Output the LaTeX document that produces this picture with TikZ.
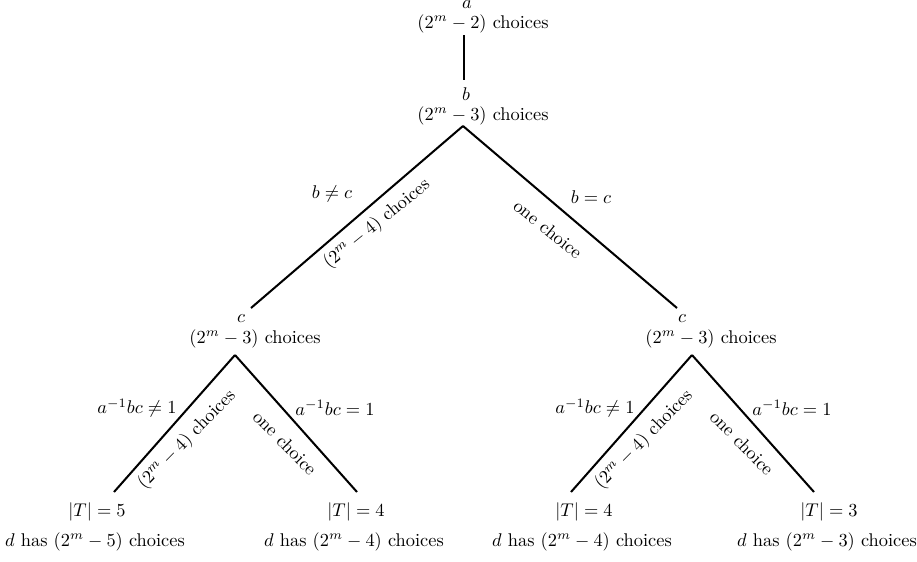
\documentclass[tikz,border=0pt]{standalone}
\begin{document}
\begin{tikzpicture}[x=0.5435pt,y=-0.5435pt,
  txt/.style={inner sep=0pt, anchor=center},
  edgeline/.style={line width=1.1pt}]
\useasboundingbox (0,0) rectangle (917,561);
% tree node texts
\node[txt] (a) at (467,5) {$a$};
\node[txt] (ach) at (483,24) {$(2^m-2)$ choices};
\node[txt] (b) at (466,94) {$b$};
\node[txt] (bch) at (483,116) {$(2^m-3)$ choices};
\node[txt] (cl) at (241,319) {$c$};
\node[txt] (clch) at (255,339) {$(2^m-3)$ choices};
\node[txt] (cr) at (682,319) {$c$};
\node[txt] (crch) at (711,339) {$(2^m-3)$ choices};
\node[txt] (t1) at (97,512) {$|T|=5$};
\node[txt] (d1) at (95,542) {$d$ has $(2^m-5)$ choices};
\node[txt] (t2) at (356,512) {$|T|=4$};
\node[txt] (d2) at (354,542) {$d$ has $(2^m-4)$ choices};
\node[txt] (t3) at (584,512) {$|T|=4$};
\node[txt] (d3) at (582,542) {$d$ has $(2^m-4)$ choices};
\node[txt] (t4) at (829,512) {$|T|=3$};
\node[txt] (d4) at (827,542) {$d$ has $(2^m-3)$ choices};
% connector ports
\coordinate (pa) at (464,35);
\coordinate (pb) at (464,80);
\coordinate (pbs) at (463,126);
\coordinate (pcl) at (251,308);
\coordinate (pcr) at (677,308);
\coordinate (pcls) at (235,355);
\coordinate (pcrs) at (692,355);
\coordinate (pt1) at (114,492);
\coordinate (pt2) at (357,492);
\coordinate (pt3) at (571,492);
\coordinate (pt4) at (814,492);
% connectors
\draw[edgeline] (pa) -- (pb);
\draw[edgeline] (pbs) -- (pcl);
\draw[edgeline] (pbs) -- (pcr);
\draw[edgeline] (pcls) -- (pt1);
\draw[edgeline] (pcls) -- (pt2);
\draw[edgeline] (pcrs) -- (pt3);
\draw[edgeline] (pcrs) -- (pt4);
% edge labels
\node[txt] (l1) at (332,194) {$b\neq c$};
\node[txt, rotate=39] (l2) at (377,224) {$(2^m-4)$ choices};
\node[txt] (l3) at (591,197) {$b=c$};
\node[txt, rotate=-39] (l4) at (548,229) {one choice};
\node[txt] (l5) at (137,408) {$a^{-1}bc\neq 1$};
\node[txt, rotate=45.5] (l6) at (187,440) {$(2^m-4)$ choices};
\node[txt, rotate=-45.5] (l7) at (285,443) {one choice};
\node[txt] (l8) at (335,408) {$a^{-1}bc=1$};
\node[txt] (l9) at (595,408) {$a^{-1}bc\neq 1$};
\node[txt, rotate=45.5] (l10) at (644,440) {$(2^m-4)$ choices};
\node[txt, rotate=-45.5] (l11) at (742,443) {one choice};
\node[txt] (l12) at (792,408) {$a^{-1}bc=1$};
\end{tikzpicture}
\end{document}
